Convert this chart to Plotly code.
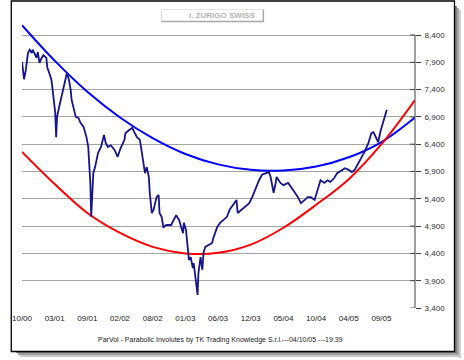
import plotly.graph_objects as go

# ---------------- data ----------------
tick_labels = ["10/00", "03/01", "09/01", "02/02", "08/02", "01/03",
               "06/03", "12/03", "05/04", "10/04", "04/05", "09/05"]
tick_days = [0, 110, 220, 330, 440, 550, 660, 770, 880, 990, 1100, 1210]

price_days = [0, 3, 7, 13, 20, 26, 33, 36, 43, 49, 53, 59, 66, 72, 82, 85, 92, 99, 102, 108,
              112, 115, 118, 125, 131, 135, 141, 148, 151, 158, 164, 167, 174, 181, 190, 197,
              207, 213, 217, 223, 230, 233, 240, 246, 256, 266, 276, 282, 289, 299, 312, 322,
              332, 345, 348, 361, 371, 378, 387, 397, 404, 410, 414, 420, 427, 430, 437, 443,
              453, 460, 463, 470, 476, 486, 502, 519, 529, 542, 545, 552, 558, 562, 568, 575,
              578, 584, 591, 594, 601, 607, 611, 617, 627, 640, 644, 657, 667, 676, 690, 699,
              706, 716, 722, 726, 739, 749, 759, 765, 775, 788, 798, 808, 821, 831, 837, 841,
              847, 854, 857, 870, 880, 896, 906, 919, 929, 939, 952, 962, 972, 985, 995, 1005,
              1018, 1028, 1038, 1051, 1061, 1077, 1087, 1100, 1110, 1120, 1133, 1143, 1153,
              1166, 1176, 1182, 1185, 1199, 1202, 1208, 1215, 1218, 1225, 1228]
price_vals = [7910, 7700, 7590, 7760, 8070, 8130, 8070, 8130, 8030, 7980, 8090, 7890, 7980, 8030,
              7980, 7810, 7700, 7580, 7450, 7210, 6970, 6530, 6900, 7080, 7210, 7340, 7450, 7610,
              7700, 7580, 7390, 7210, 7030, 6900, 6880, 6790, 6720, 6600, 6530, 6350, 5690, 5070,
              5870, 5980, 6240, 6350, 6570, 6420, 6350, 6380, 6290, 6170, 6330, 6480, 6600, 6660,
              6700, 6620, 6530, 6480, 6240, 6060, 5870, 5980, 5800, 5510, 5140, 5200, 5430, 5470,
              5140, 5070, 4880, 4920, 4920, 5100, 5010, 4770, 4960, 4830, 4520, 4280, 4330, 4130,
              4220, 3970, 3640, 4040, 4330, 4100, 4410, 4520, 4550, 4590, 4680, 4880, 4960, 5010,
              5070, 5200, 5250, 5340, 5380, 5140, 5200, 5230, 5290, 5320, 5430, 5620, 5740, 5840,
              5870, 5890, 5800, 5690, 5510, 5690, 5800, 5690, 5650, 5690, 5620, 5510, 5430, 5320,
              5380, 5430, 5430, 5380, 5560, 5740, 5690, 5740, 5710, 5780, 5870, 5930, 5960, 5930,
              5890, 5930, 6060, 6170, 6260, 6420, 6600, 6620, 6600, 6440, 6530, 6660, 6790, 6840,
              6970, 7030]

curve_days = [0, 110, 220, 330, 440, 550, 660, 770, 880, 990, 1100, 1210, 1323]
upper_vals = [8580, 7930, 7360, 6890, 6510, 6220, 6030, 5930, 5920, 5990, 6160, 6440, 6890]
lower_vals = [6260, 5670, 5140, 4775, 4520, 4400, 4410, 4560, 4870, 5290, 5760, 6400, 7210]

y_ticks = [3400, 3900, 4400, 4900, 5400, 5900, 6400, 6900, 7400, 7900, 8400]

title_text = "I. ZURIGO SWISS"
footer_text = "ParVol - Parabolic Involutes by TK Trading Knowledge S.r.l.---04/10/05 ---19:39"

# ---------------- layout geometry ----------------
W, H = 464, 360
PL, PR, PT, PB = 12, 415, 22, 308          # plot area in pixels
X_MAX = 1323
Y_MIN, Y_TOP = 3400, 3400 + (PB - PT) * 500 / 27.3


def px_x(p):
    return (p - PL) / (PR - PL)


def px_y(p):
    return (PB - p) / (PB - PT)


fig = go.Figure()

fig.add_trace(go.Scatter(x=curve_days, y=upper_vals, mode="lines", line_shape="spline",
                         line=dict(color="#0000ff", width=2), hoverinfo="skip"))
fig.add_trace(go.Scatter(x=curve_days, y=lower_vals, mode="lines", line_shape="spline",
                         line=dict(color="#ff0000", width=2), hoverinfo="skip"))
fig.add_trace(go.Scatter(x=price_days, y=price_vals, mode="lines",
                         line=dict(color="#14148c", width=1.8), hoverinfo="skip"))

shapes = []
# drop shadow (graded strips)
for i, col in enumerate(["#7a7a7a", "#a0a0a0", "#c8c8c8"]):
    o = 2 * i
    shapes.append(dict(type="rect", xref="paper", yref="paper",
                       x0=px_x(456 + o), x1=px_x(458 + o), y0=px_y(358 - (4 - o)), y1=px_y(6 + o),
                       line=dict(width=0), fillcolor=col, layer="above"))
    shapes.append(dict(type="rect", xref="paper", yref="paper",
                       x0=px_x(6 + o), x1=px_x(458 + o), y0=px_y(353 + o), y1=px_y(351 + o),
                       line=dict(width=0), fillcolor=col, layer="above"))
# outer frame
shapes.append(dict(type="rect", xref="paper", yref="paper",
                   x0=px_x(1), x1=px_x(455.5), y0=px_y(351.5), y1=px_y(1),
                   line=dict(color="#000000", width=1.3), fillcolor="rgba(0,0,0,0)"))
# title box
shapes.append(dict(type="line", xref="paper", yref="paper",
                   x0=px_x(155), x1=px_x(260), y0=px_y(9.5), y1=px_y(9.5),
                   line=dict(color="#e4e4e4", width=1)))
shapes.append(dict(type="line", xref="paper", yref="paper",
                   x0=px_x(155), x1=px_x(155), y0=px_y(9.5), y1=px_y(21.5),
                   line=dict(color="#e0e0e0", width=1)))
shapes.append(dict(type="line", xref="paper", yref="paper",
                   x0=px_x(155), x1=px_x(260), y0=px_y(21.5), y1=px_y(21.5),
                   line=dict(color="#a8a8a8", width=1.5)))
shapes.append(dict(type="line", xref="paper", yref="paper",
                   x0=px_x(259.5), x1=px_x(259.5), y0=px_y(9.5), y1=px_y(22),
                   line=dict(color="#a8a8a8", width=1.5)))
# right axis line
shapes.append(dict(type="line", xref="paper", yref="y",
                   x0=1, x1=1, y0=y_ticks[0], y1=y_ticks[-1],
                   line=dict(color="#404040", width=1)))
# inner part of cross ticks
for v in y_ticks:
    shapes.append(dict(type="line", xref="paper", yref="y",
                       x0=px_x(410), x1=1, y0=v, y1=v,
                       line=dict(color="#404040", width=1)))

annotations = [
    dict(text="<b>" + title_text + "</b>", xref="paper", yref="paper", x=px_x(217), y=px_y(15.5),
         showarrow=False, font=dict(family="Liberation Sans, Arial", size=8, color="#b4b4b4"),
         xanchor="center", yanchor="middle"),
    dict(text=footer_text, xref="paper", yref="paper", x=px_x(216), y=px_y(340),
         showarrow=False, font=dict(family="Liberation Sans, Arial", size=7, color="#202020"),
         xanchor="center", yanchor="middle"),
]

fig.update_layout(
    width=W, height=H,
    margin=dict(l=PL, r=W - PR, t=PT, b=H - PB),
    paper_bgcolor="#ffffff", plot_bgcolor="#ffffff",
    showlegend=False,
    shapes=shapes, annotations=annotations,
    xaxis=dict(range=[0, X_MAX], tickvals=tick_days, ticktext=tick_labels,
               showgrid=False, zeroline=False, showline=False, ticks="",
               tickfont=dict(family="Liberation Sans, Arial", size=8, color="#202020"),
               ticklabelstandoff=4, fixedrange=True),
    yaxis=dict(range=[Y_MIN, Y_TOP], side="right", tickvals=y_ticks, tickformat=",",
               showgrid=True, gridcolor="#a4a4a4", gridwidth=1.3, zeroline=False,
               showline=False, ticks="outside", ticklen=5, tickcolor="#404040",
               tickfont=dict(family="Liberation Sans, Arial", size=8, color="#303030"),
               ticklabelstandoff=2, fixedrange=True),
)

fig.write_html("out.html", config={"displayModeBar": False},
               post_script="document.body.style.margin='0';document.body.style.overflow='hidden';")
